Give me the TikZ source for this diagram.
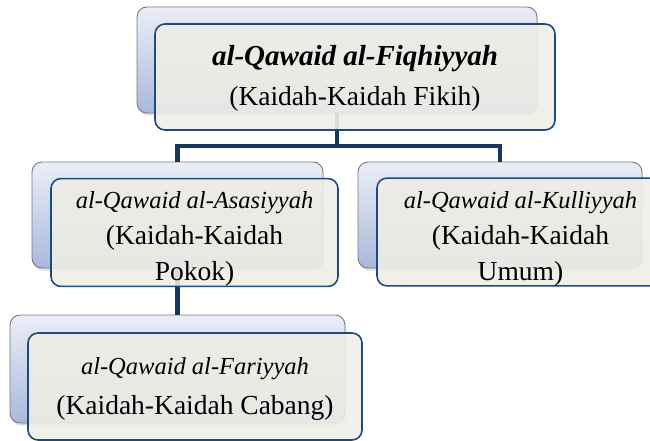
\documentclass[tikz,border=0pt]{standalone}
\usepackage{fontspec}
\setmainfont{Liberation Serif}
\usetikzlibrary{shadows}
\definecolor{backtop}{HTML}{EBEEF8}
\definecolor{backbot}{HTML}{A8B8DC}
\definecolor{backline}{HTML}{7A7A7A}
\definecolor{frontfill}{HTML}{EEEDE6}
\definecolor{frontline}{HTML}{1F4A80}
\definecolor{connline}{HTML}{17375E}
\tikzset{
  backbox/.style={draw=backline, line width=0.9pt, rounded corners=10pt,
    top color=backtop, bottom color=backbot, inner sep=0pt,
    drop shadow={opacity=0.25, shadow xshift=1pt, shadow yshift=-2.5pt}},
  frontbox/.style={draw=frontline, line width=1.6pt, rounded corners=10pt,
    fill=frontfill, fill opacity=0.9, text opacity=1, inner sep=0pt,
    align=center},
  conn/.style={draw=connline, line width=4.5pt},
}
\newcommand{\itx}[1]{{\fontsize{24.5}{36}\selectfont\itshape #1}}
\newcommand{\bix}[1]{{\fontsize{29}{40}\selectfont\bfseries\itshape #1}}
\newcommand{\topstrut}{\rule{0pt}{30pt}}
\begin{document}
\begin{tikzpicture}[x=1pt,y=-1pt]
\useasboundingbox (0,0) rectangle (650,441);
% back boxes
\coordinate (j) at (337,146);
\node[backbox, minimum width=400pt, minimum height=106pt] (topback) at (337,60) {};
\node[backbox, minimum width=291pt, minimum height=106pt] (leftback) at (177.5,215) {};
\node[backbox, minimum width=284pt, minimum height=106pt] (rightback) at (500,215) {};
\node[backbox, minimum width=335pt, minimum height=108pt] (botback) at (177.5,369) {};
% connectors
\draw[conn] (topback.south) -- (j) -| (leftback.north);
\draw[conn] (j) -| (rightback.north);
\draw[conn] (leftback.south) -- (botback.north);
% front boxes
\node[frontbox, minimum width=400pt, minimum height=106pt, font=\fontsize{27.5}{40}\selectfont] (topfront) at (355,77)
  {\bix{\rule{0pt}{23pt}al-Qawaid al-Fiqhiyyah}\\(Kaidah-Kaidah Fikih)};
\node[frontbox, minimum width=287pt, minimum height=107pt, font=\fontsize{27.5}{36}\selectfont] (leftfront) at (194.5,232.5)
  {\itx{\topstrut al-Qawaid al-Asasiyyah}\\(Kaidah-Kaidah\\Pokok)};
\node[frontbox, minimum width=287pt, minimum height=107pt, font=\fontsize{27.5}{36}\selectfont] (rightfront) at (520.5,232)
  {\itx{\topstrut al-Qawaid al-Kulliyyah}\\(Kaidah-Kaidah\\Umum)};
\node[frontbox, minimum width=334pt, minimum height=107pt, font=\fontsize{27.5}{40}\selectfont] (botfront) at (195,386.5)
  {\itx{\rule{0pt}{22pt}al-Qawaid al-Fariyyah}\\(Kaidah-Kaidah Cabang)};
\end{tikzpicture}
\end{document}
